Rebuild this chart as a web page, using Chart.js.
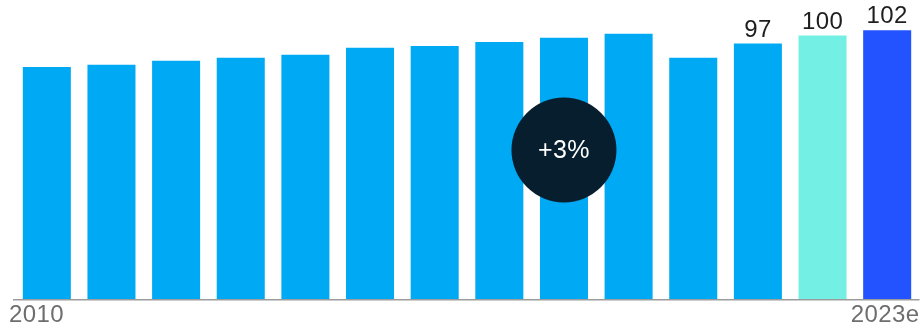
<!DOCTYPE html>
<html>
<head>
<meta charset="utf-8">
<script src="https://cdn.jsdelivr.net/npm/chart.js@4"></script>
<style>
    html, body { margin: 0; padding: 0; background: #ffffff; }
    #wrap { width: 922px; height: 327px; position: relative; }
</style>
</head>
<body>
<div id="wrap"><canvas id="chart-volume"></canvas></div>
<script>
const years = ['2010', '2011', '2012', '2013', '2014', '2015', '2016', '2017', '2018', '2019', '2020', '2021', '2022', '2023e'];
const volumes = [88.1, 88.9, 90.5, 91.6, 92.7, 95.4, 96.1, 97.6, 99.2, 100.7, 91.6, 97, 100, 102];
const labelledBars = [11, 12, 13];
const growthText = '+3%';
const growthBar = 8;

const barColors = years.map((y, i) => i === 13 ? '#2253ff' : i === 12 ? '#74efe4' : '#00a9f4');
const fontFamily = '"Liberation Sans", Arial, sans-serif';

// axis line, end labels, value labels and the growth bubble
const overlay = {
    id: 'overlay',
    afterDatasetsDraw(chart) {
        const { ctx, chartArea } = chart;
        const x = chart.scales.x;
        const meta = chart.getDatasetMeta(0);
        ctx.save();

        ctx.fillStyle = '#9b9b9b';
        ctx.fillRect(13, chartArea.bottom, chartArea.right - 13, 1.5);

        ctx.font = '400 24px ' + fontFamily;
        ctx.letterSpacing = '0.4px';
        ctx.fillStyle = '#6e6e6e';
        ctx.textBaseline = 'alphabetic';
        ctx.textAlign = 'left';
        ctx.fillText(years[0], 9, 322);
        ctx.textAlign = 'right';
        ctx.fillText(years[years.length - 1], chartArea.right, 322);

        ctx.fillStyle = '#1e1e1e';
        ctx.textAlign = 'center';
        labelledBars.forEach(i => {
            const bar = meta.data[i];
            ctx.fillText(String(volumes[i]), bar.x, bar.y - 7);
        });

        const cx = x.getPixelForValue(growthBar);
        const cy = 150;
        ctx.beginPath();
        ctx.arc(cx, cy, 52.5, 0, Math.PI * 2);
        ctx.fillStyle = '#071e2e';
        ctx.fill();
        ctx.font = '400 25px ' + fontFamily;
        ctx.fillStyle = '#ffffff';
        ctx.textBaseline = 'middle';
        ctx.fillText(growthText, cx, cy + 1);

        ctx.restore();
    }
};

new Chart(document.getElementById('chart-volume'), {
    type: 'bar',
    data: {
        labels: years,
        datasets: [{
            data: volumes,
            backgroundColor: barColors,
            barPercentage: 1,
            categoryPercentage: 0.743,
        }]
    },
    options: {
        responsive: true,
        maintainAspectRatio: false,
        animation: false,
        layout: { padding: { left: 14.5, right: 2.5, top: 4, bottom: 28 } },
        scales: {
            x: { display: false },
            y: { display: false, min: 0, max: 112 }
        },
        plugins: {
            legend: { display: false },
            tooltip: { enabled: false }
        }
    },
    plugins: [overlay]
});
</script>
</body>
</html>
